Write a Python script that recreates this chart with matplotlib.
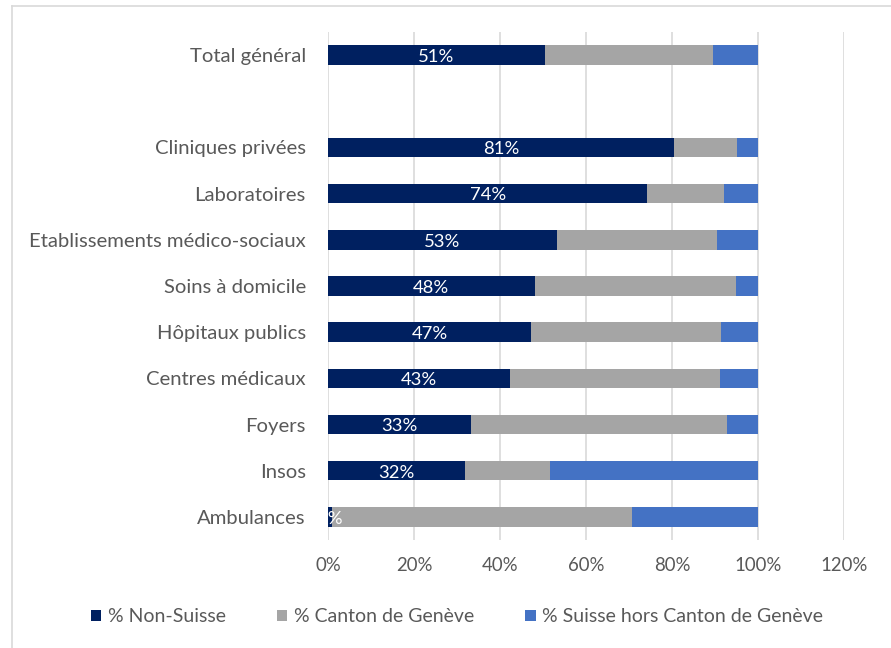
import matplotlib
matplotlib.use("Agg")
import matplotlib.pyplot as plt
from matplotlib.lines import Line2D
import numpy as np

categories = ["Total général", "", "Cliniques privées", "Laboratoires",
              "Etablissements médico-sociaux", "Soins à domicile",
              "Hôpitaux publics", "Centres médicaux", "Foyers", "Insos", "Ambulances"]
non_suisse = [50.5, 0, 80.5, 74.3, 53.3, 48.1, 47.2, 42.4, 33.3, 31.9, 0.9]
canton_ge = [39.0, 0, 14.5, 17.7, 37.2, 46.8, 44.2, 48.8, 59.6, 19.8, 69.8]
suisse_hors = [10.5, 0, 5.0, 8.0, 9.5, 5.1, 8.6, 8.8, 7.1, 48.3, 29.3]
labels_ns = ["51%", "", "81%", "74%", "53%", "48%", "47%", "43%", "33%", "32%", "1%"]
series_names = ["% Non-Suisse", "% Canton de Genève", "% Suisse hors Canton de Genève"]
xticks = [0, 20, 40, 60, 80, 100, 120]

c_navy = "#002060"
c_grey = "#A5A5A5"
c_blue = "#4472C4"
txt = "#595959"

plt.rcParams['font.family'] = ['Lato', 'DejaVu Sans']

fig = plt.figure(figsize=(8.91, 6.48), dpi=100)
ax = fig.add_axes([328/891, 1-540/648, (844-328)/891, (540-32)/648])

y = np.arange(len(categories))
h = 0.42
ns = np.array(non_suisse); cg = np.array(canton_ge); sh = np.array(suisse_hors)
valid = np.array([c != "" for c in categories])
b1 = ax.barh(y[valid], ns[valid], height=h, color=c_navy, label=series_names[0], zorder=3)
b2 = ax.barh(y[valid], cg[valid], left=ns[valid], height=h, color=c_grey, label=series_names[1], zorder=3)
b3 = ax.barh(y[valid], sh[valid], left=(ns+cg)[valid], height=h, color=c_blue, label=series_names[2], zorder=3)

for yi, v, lab in zip(y, ns, labels_ns):
    if lab:
        ax.text(v/2, yi + 0.04, lab, ha="center", va="center", color="white", fontsize=13.3, zorder=4)

ax.set_xlim(0, 120)
ax.set_ylim(len(categories)-0.5, -0.5)
ax.set_xticks(xticks)
ax.set_xticklabels([f"{t}%" for t in xticks], fontsize=13.4, color=txt)
ax.set_yticks(y)
ax.set_yticklabels(categories, fontsize=14.6, color=txt)
ax.tick_params(axis="both", length=0)
ax.tick_params(axis="x", pad=12)
ax.tick_params(axis="y", pad=16)
ax.xaxis.grid(True, color="#D9D9D9", linewidth=1.2, zorder=0)
ax.set_axisbelow(True)
for s in ax.spines.values():
    s.set_visible(False)

fig.legend(handles=[b1, b2, b3], labels=series_names, loc="center",
           bbox_to_anchor=(457/891, 1-617/648), ncol=3, frameon=False,
           fontsize=14, labelcolor=txt, handlelength=0.55, handleheight=0.55,
           handletextpad=0.35, columnspacing=2.6)

# chart border (left & top visible)
fig.add_artist(Line2D([11.5/891, 11.5/891], [0, 1-5.5/648], transform=fig.transFigure, color="#D9D9D9", lw=1.2))
fig.add_artist(Line2D([11.5/891, 1], [1-5.5/648, 1-5.5/648], transform=fig.transFigure, color="#D9D9D9", lw=1.2))

fig.savefig("out.png", dpi=100)
